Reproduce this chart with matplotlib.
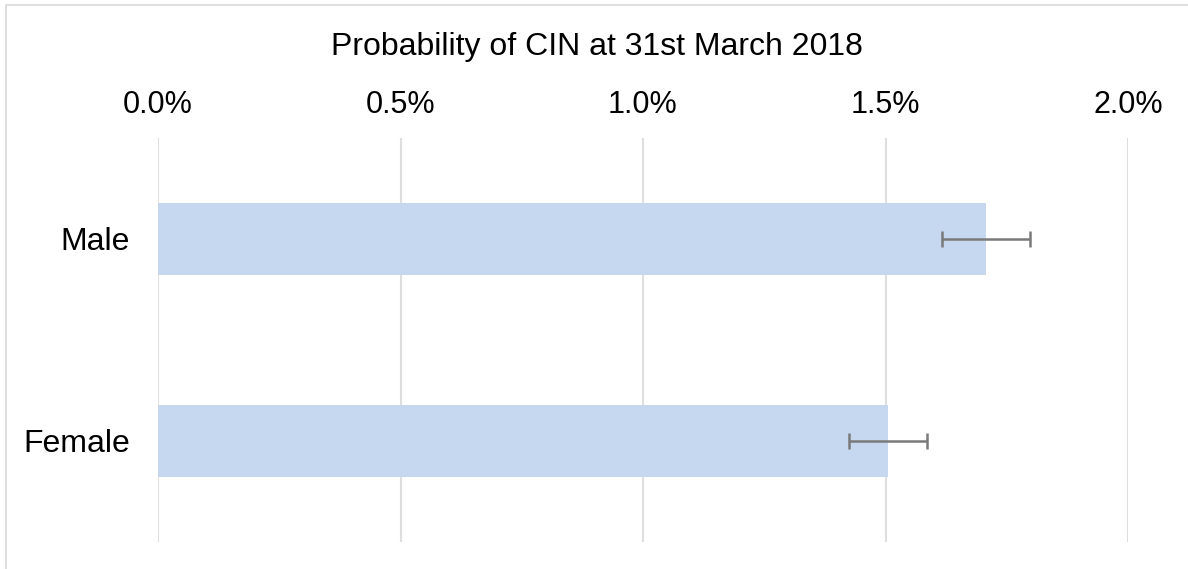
import matplotlib
matplotlib.use("Agg")
import matplotlib.pyplot as plt
from matplotlib.patches import Rectangle
from matplotlib.ticker import FuncFormatter

categories = ["Female", "Male"]
values = [1.505, 1.707]          # percent
errors = [0.080, 0.091]          # percent
xticks = [0.0, 0.5, 1.0, 1.5, 2.0]
title = "Probability of CIN at 31st March 2018"

plt.rcParams['font.family'] = ['Liberation Sans', 'DejaVu Sans']

W, H = 1188, 569
fig = plt.figure(figsize=(W / 100, H / 100), dpi=100)
ax = fig.add_axes([158 / W, 1 - 542 / H, (1128 - 158) / W, (542 - 138) / H])

# outer chart border (partially cropped)
fig.patches.append(Rectangle((6 / W, -0.1), 1.2, (1 - 5 / H) + 0.1, transform=fig.transFigure,
                             fill=False, edgecolor="#d9d9d9", linewidth=1.2, zorder=0))

y = list(range(len(categories)))
ax.barh(y, values, height=0.356, color="#c6d8ef", zorder=2)
ax.errorbar(values, y, xerr=errors, fmt="none", ecolor="#7a7a7a", elinewidth=1.8,
            capsize=5.5, capthick=1.8, zorder=3)

ax.set_xlim(0, 2.0)
ax.set_ylim(-0.5, 1.5)
ax.set_xticks(xticks)
ax.xaxis.set_major_formatter(FuncFormatter(lambda v, p: f"{v:.1f}%"))
ax.xaxis.tick_top()
ax.tick_params(axis="x", length=0, pad=13, labelsize=22)
ax.set_yticks(y)
ax.set_yticklabels(categories)
ax.tick_params(axis="y", length=0, pad=20, labelsize=23)
ax.grid(axis="x", color="#dedede", linewidth=1.5, zorder=0)
ax.set_axisbelow(True)
for s in ax.spines.values():
    s.set_visible(False)

fig.text(597 / W, 1 - 47 / H, title, ha="center", va="center", fontsize=23)

fig.savefig("out.png", dpi=100)
